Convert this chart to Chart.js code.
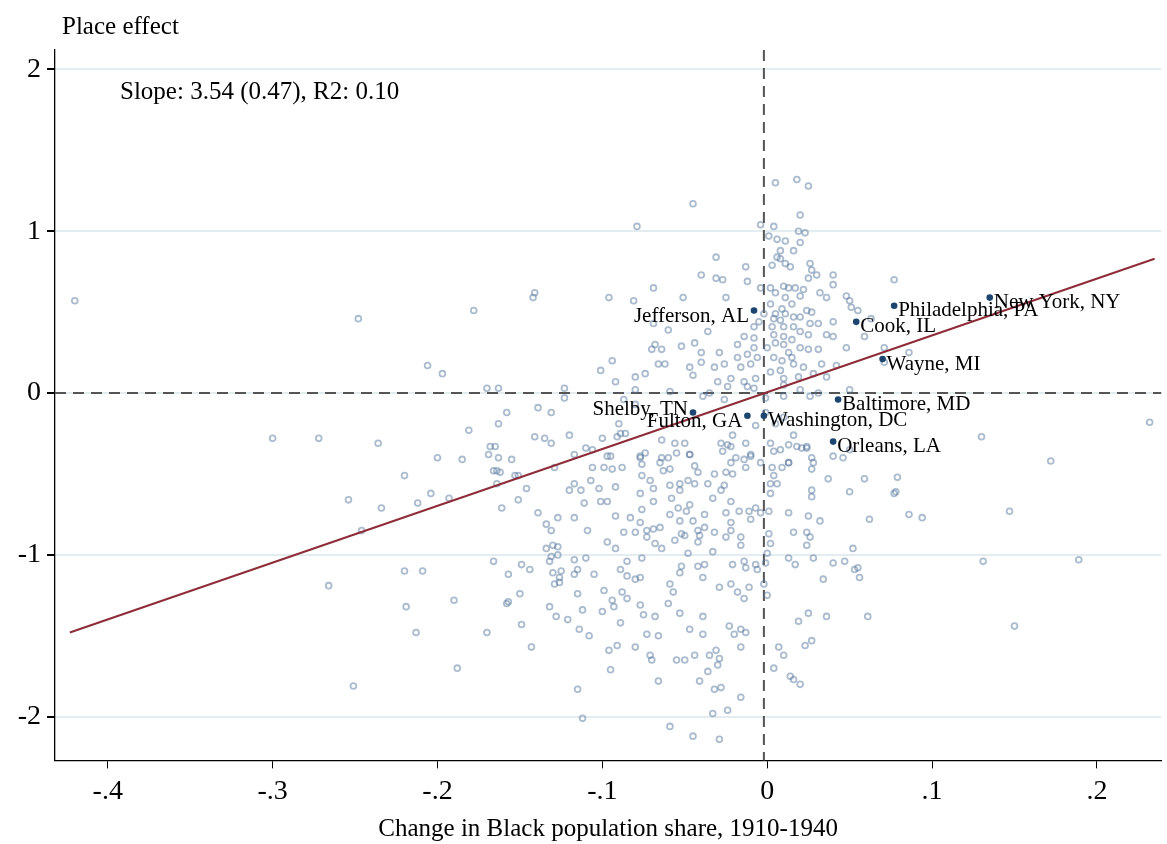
<!DOCTYPE html>
<html>
<head>
<meta charset="utf-8">
<script src="https://cdn.jsdelivr.net/npm/chart.js@4.4.0/dist/chart.umd.min.js"></script>
<style>
  html, body { margin: 0; padding: 0; background: #fff; }
  #wrap { width: 1167px; height: 844px; }
</style>
</head>
<body>
<div id="wrap"><canvas id="c"></canvas></div>
<script>
// county points: [change in Black share, place effect]
const countyPoints = [
  [-0.42,0.57],[-0.248,0.46],[-0.272,-0.28],[-0.30,-0.28],[-0.236,-0.31],[-0.206,0.17],[-0.197,0.12],
  [-0.178,0.51],[-0.142,0.59],[-0.141,0.62],[0.232,-0.18],[0.189,-1.03],[0.15,-1.44],[0.147,-0.73],
  [0.172,-0.42],[0.13,-0.27],[0.131,-1.04],[0.086,-0.75],[0.094,-0.77],[-0.251,-1.81],[-0.266,-1.19],
  [-0.254,-0.66],[-0.246,-0.85],[-0.22,-1.10],[-0.209,-1.10],[-0.219,-1.32],[-0.213,-1.48],[-0.188,-1.70],
  [-0.19,-1.28],[-0.22,-0.51],[-0.204,-0.62],[-0.193,-0.65],[-0.212,-0.68],[-0.2,-0.40],[-0.185,-0.41],
  [-0.181,-0.23],[-0.168,-0.33],[-0.166,-0.48],[-0.17,0.03],[-0.163,0.03],[-0.153,-0.51],[-0.151,-0.66],
  [-0.17,-1.48],[-0.158,-1.30],[-0.157,-1.12],[-0.234,-0.71],[-0.158,-0.12],[-0.163,-0.19],
  [0.005,1.30],[0.018,1.32],[0.025,1.28],[-0.045,1.17],[0.02,1.10],[-0.079,1.03],[-0.004,1.04],[0.004,1.03],
  [0.019,1.00],[0.023,0.99],[0.001,0.97],[0.006,0.95],[0.011,0.94],[0.02,0.93],[0.016,0.88],[0.008,0.88],
  [-0.031,0.84],[0.006,0.84],[0.008,0.83],[0.011,0.80],[0.014,0.78],[0.003,0.79],[0.026,0.80],[-0.013,0.78],
  [0.027,0.76],[0.03,0.73],[-0.04,0.73],[-0.031,0.71],[-0.027,0.70],[-0.012,0.69],[0.025,0.71],[0.04,0.73],
  [0.077,0.70],[-0.004,0.65],[0.002,0.65],[0.01,0.66],[0.013,0.65],[0.017,0.65],[0.022,0.64],[0.04,0.67],
  [-0.069,0.65],[-0.096,0.59],[-0.081,0.57],[-0.051,0.59],[-0.025,0.59],[0.005,0.62],[0.011,0.59],
  [0.02,0.60],[0.032,0.62],[0.036,0.59],[0.048,0.60],[0.002,0.55],[0.015,0.55],[0.051,0.53],[0.055,0.51],
  [0.009,0.52],[0.005,0.49],[0.011,0.49],[0.024,0.51],[0.027,0.50],[-0.002,0.49],[-0.005,0.44],[0.004,0.46],
  [0.008,0.45],[0.016,0.47],[0.02,0.47],[0.026,0.43],[0.031,0.43],[0.04,0.44],[0.063,0.46],[-0.069,0.43],
  [-0.06,0.39],[-0.036,0.38],[-0.008,0.41],[0.003,0.41],[0.01,0.41],[0.016,0.41],[0.02,0.38],[0.025,0.36],
  [0.036,0.36],[0.04,0.35],[0.059,0.35],[-0.014,0.35],[-0.008,0.34],[0.004,0.36],[0.01,0.35],[0.015,0.33],
  [-0.044,0.31],[-0.052,0.29],[-0.068,0.30],[-0.07,0.27],[-0.064,0.27],[-0.018,0.30],[-0.008,0.28],
  [0.0,0.28],[0.005,0.31],[0.01,0.30],[0.013,0.25],[0.02,0.28],[0.025,0.27],[0.031,0.27],[0.048,0.28],
  [0.071,0.28],[0.086,0.25],[-0.094,0.20],[-0.04,0.25],[-0.029,0.25],[-0.018,0.22],[-0.012,0.24],
  [-0.006,0.22],[0.004,0.22],[0.009,0.20],[0.015,0.22],[-0.101,0.14],[-0.074,0.12],[-0.066,0.18],
  [-0.062,0.18],[-0.047,0.16],[-0.04,0.19],[-0.032,0.16],[-0.026,0.18],[-0.016,0.16],[-0.01,0.18],
  [0.002,0.13],[0.008,0.14],[0.016,0.18],[0.022,0.16],[0.033,0.18],[0.042,0.17],[0.071,0.19],[-0.092,0.07],
  [-0.08,0.10],[-0.045,0.11],[-0.03,0.07],[-0.022,0.09],[-0.014,0.07],[-0.007,0.09],[0.01,0.09],[0.019,0.10],
  [0.028,0.12],[0.036,0.10],[-0.123,0.03],[-0.08,0.02],[-0.059,0.01],[-0.035,0.0],[-0.024,0.04],[-0.012,0.04],
  [-0.008,0.03],[0.01,0.05],[0.02,0.02],[0.031,0.0],[0.05,0.02],[-0.139,-0.09],[-0.131,-0.12],[-0.123,-0.03],
  [-0.087,-0.04],[-0.039,-0.02],[-0.026,-0.04],[-0.001,-0.03],[0.01,-0.02],[0.026,-0.02],[-0.141,-0.27],
  [-0.135,-0.28],[-0.131,-0.31],[-0.12,-0.26],[-0.11,-0.34],[-0.106,-0.35],[-0.1,-0.28],[-0.097,-0.39],
  [-0.091,-0.27],[-0.09,-0.19],[-0.086,-0.25],[-0.08,-0.07],[-0.077,-0.40],[-0.074,-0.37],[-0.064,-0.29],
  [-0.056,-0.31],[-0.05,-0.31],[-0.047,-0.38],[-0.028,-0.31],[-0.024,-0.32],[-0.021,-0.26],[-0.013,-0.31],
  [-0.01,-0.39],[-0.007,-0.20],[-0.001,-0.12],[0.005,-0.19],[0.01,-0.15],[0.016,-0.26],[0.021,-0.34],
  [0.024,-0.34],[0.013,-0.43],[0.004,-0.36],[0.002,-0.31],[-0.019,-0.40],[0.05,-0.35],
  [-0.165,-0.33],[-0.169,-0.38],[-0.163,-0.40],[-0.155,-0.41],[-0.164,-0.48],[-0.162,-0.49],[-0.151,-0.51],
  [-0.146,-0.59],[-0.161,-0.71],[-0.164,-0.56],[-0.139,-0.74],[-0.134,-0.81],[-0.131,-0.85],[-0.127,-0.77],
  [-0.117,-0.77],[-0.12,-0.60],[-0.117,-0.56],[-0.113,-0.60],[-0.111,-0.68],[-0.107,-0.54],[-0.102,-0.59],
  [-0.101,-0.67],[-0.097,-0.67],[-0.092,-0.58],[-0.099,-0.46],[-0.094,-0.47],[-0.088,-0.46],[-0.106,-0.46],
  [-0.117,-0.38],[-0.129,-0.46],[-0.095,-0.39],[-0.089,-0.25],[-0.077,-0.39],[-0.076,-0.44],[-0.076,-0.51],
  [-0.071,-0.54],[-0.069,-0.59],[-0.077,-0.62],[-0.069,-0.67],[-0.076,-0.72],[-0.092,-0.76],[-0.083,-0.77],
  [-0.077,-0.80],[-0.087,-0.86],[-0.08,-0.86],[-0.073,-0.85],[-0.073,-0.89],[-0.069,-0.84],[-0.065,-0.83],
  [-0.064,-0.40],[-0.06,-0.40],[-0.065,-0.43],[-0.059,-0.47],[-0.063,-0.48],[-0.055,-0.37],[-0.047,-0.38],
  [-0.059,-0.57],[-0.058,-0.65],[-0.053,-0.60],[-0.053,-0.56],[-0.048,-0.54],[-0.044,-0.56],[-0.044,-0.45],
  [-0.042,-0.49],[-0.054,-0.71],[-0.059,-0.75],[-0.049,-0.73],[-0.047,-0.69],[-0.053,-0.79],[-0.045,-0.79],
  [-0.052,-0.87],[-0.056,-0.91],[-0.05,-0.88],[-0.042,-0.85],[-0.041,-0.88],[-0.042,-0.92],[-0.036,-0.56],
  [-0.032,-0.50],[-0.025,-0.49],[-0.021,-0.50],[-0.026,-0.57],[-0.028,-0.60],[-0.033,-0.65],[-0.022,-0.67],
  [-0.025,-0.74],[-0.022,-0.80],[-0.022,-0.85],[-0.025,-0.89],[-0.016,-0.89],[-0.016,-0.94],[-0.032,-0.86],
  [-0.038,-0.83],[-0.038,-0.75],[-0.017,-0.73],[-0.011,-0.73],[-0.01,-0.78],[-0.007,-0.71],[-0.004,-0.74],
  [-0.022,-0.33],[-0.027,-0.36],[-0.022,-0.43],[-0.014,-0.41],[-0.01,-0.38],[-0.013,-0.46],[-0.004,-0.43],
  [0.008,-0.35],[0.013,-0.32],[0.018,-0.33],[0.024,-0.33],[0.027,-0.40],[0.028,-0.43],[0.027,-0.47],
  [0.013,-0.43],[0.009,-0.46],[0.003,-0.46],[0.004,-0.51],[0.002,-0.56],[0.006,-0.56],[0.002,-0.62],
  [0.037,-0.53],[0.04,-0.39],[0.046,-0.40],[0.059,-0.53],[0.05,-0.61],[0.027,-0.60],[0.027,-0.64],
  [0.077,-0.62],[0.001,-0.73],[0.013,-0.74],[0.025,-0.76],[0.032,-0.79],[0.062,-0.78],[0.016,-0.86],
  [0.024,-0.86],[0.026,-0.89],[0.024,-0.94],[0.052,-0.96],[0.001,-0.87],[0.002,-0.93],[0.0,-0.99],
  [0.013,-1.02],[0.017,-1.06],[0.028,-1.02],[0.04,-1.05],[0.047,-1.04],[0.055,-1.08],[0.056,-1.14],
  [0.034,-1.15],[-0.002,-1.18],[0.0,-1.25],[-0.001,-1.05],[-0.006,-1.09],[-0.007,-1.06],[-0.013,-1.08],
  [-0.014,-1.04],[-0.021,-1.06],[-0.011,-1.20],[-0.014,-1.27],[-0.018,-1.23],[-0.022,-1.18],[-0.029,-1.20],
  [-0.038,-1.06],[-0.042,-1.07],[-0.039,-1.14],[-0.033,-0.98],[-0.048,-0.99],[-0.052,-1.07],[-0.053,-1.11],
  [-0.059,-1.18],[-0.057,-1.23],[-0.06,-1.30],[-0.068,-1.38],[-0.053,-1.36],[-0.039,-1.38],[-0.047,-1.46],
  [-0.039,-1.49],[-0.073,-1.49],[-0.066,-1.50],[-0.075,-1.37],[-0.085,-1.27],[-0.094,-1.28],[-0.093,-1.32],
  [-0.089,-1.42],[-0.1,-1.35],[-0.099,-1.22],[-0.088,-1.23],[-0.077,-1.31],[-0.112,-1.34],[-0.121,-1.40],
  [-0.128,-1.38],[-0.132,-1.32],[-0.115,-1.24],[-0.129,-1.18],[-0.126,-1.17],[-0.13,-1.11],[-0.125,-1.10],
  [-0.126,-1.14],[-0.13,-0.94],[-0.127,-0.95],[-0.127,-1.00],[-0.134,-0.96],[-0.132,-1.04],[-0.131,-1.01],
  [-0.117,-1.03],[-0.115,-1.09],[-0.117,-1.12],[-0.11,-1.02],[-0.105,-1.12],[-0.097,-0.92],[-0.092,-0.96],
  [-0.109,-0.85],[-0.089,-1.09],[-0.085,-1.04],[-0.085,-1.13],[-0.08,-1.15],[-0.077,-1.14],[-0.076,-1.02],
  [-0.068,-0.93],[-0.064,-0.96],[-0.15,-1.24],[-0.157,-1.29],[-0.149,-1.43],[-0.143,-1.57],[-0.166,-1.04],
  [-0.149,-1.06],[-0.144,-1.09],[-0.114,-1.46],[-0.108,-1.50],[-0.096,-1.59],[-0.091,-1.56],[-0.08,-1.57],
  [-0.071,-1.62],[-0.07,-1.65],[-0.095,-1.71],[-0.055,-1.65],[-0.05,-1.65],[-0.044,-1.62],[-0.035,-1.62],
  [-0.031,-1.59],[-0.029,-1.64],[-0.03,-1.68],[-0.036,-1.72],[-0.066,-1.78],[-0.041,-1.78],[-0.032,-1.83],
  [-0.028,-1.82],[-0.016,-1.88],[-0.115,-1.83],[-0.112,-2.01],[-0.059,-2.06],[-0.045,-2.12],[-0.029,-2.14],
  [-0.033,-1.98],[-0.024,-1.96],[-0.023,-1.44],[-0.02,-1.49],[-0.016,-1.46],[-0.013,-1.48],[-0.016,-1.57],
  [0.007,-1.57],[0.01,-1.62],[0.004,-1.70],[0.014,-1.75],[0.016,-1.77],[0.02,-1.80],[0.025,-1.36],
  [0.019,-1.41],[0.036,-1.38],[0.023,-1.56],[0.027,-1.53],[0.061,-1.38],[0.078,-0.61],[0.079,-0.52],
  [0.053,-1.09],[0.05,0.57]
];

const namedCounties = ["New York, NY","Philadelphia, PA","Cook, IL","Wayne, MI","Jefferson, AL",
  "Baltimore, MD","Washington, DC","Orleans, LA","Shelby, TN","Fulton, GA"];
const namedX = [0.135, 0.077, 0.054, 0.070, -0.008, 0.043, -0.002, 0.040, -0.045, -0.012];
const namedY = [0.59, 0.54, 0.44, 0.21, 0.51, -0.04, -0.14, -0.30, -0.12, -0.14];
const labelSide = ["r","r","r","r","l","r","r","r","l","l"];

const fitX = [-0.423, 0.235];
const fitY = [-1.48, 0.83];
const yTicks = [-2, -1, 0, 1, 2];
const xTicks = [-0.4, -0.3, -0.2, -0.1, 0, 0.1, 0.2];

const serif = "'Liberation Serif', 'DejaVu Serif', serif";

function fmtX(v) {
  if (Math.abs(v) < 1e-9) return "0";
  return (v < 0 ? "-" : "") + "." + Math.round(Math.abs(v) * 10);
}

const extras = {
  id: 'extras',
  beforeDatasetsDraw(chart) {
    const { ctx, chartArea: a, scales: { x, y } } = chart;
    ctx.save();
    ctx.strokeStyle = '#555';
    ctx.lineWidth = 2;
    ctx.setLineDash([11, 7]);
    ctx.beginPath();
    ctx.moveTo(a.left, y.getPixelForValue(0));
    ctx.lineTo(a.right, y.getPixelForValue(0));
    ctx.moveTo(x.getPixelForValue(-0.002), a.top);
    ctx.lineTo(x.getPixelForValue(-0.002), a.bottom);
    ctx.stroke();
    ctx.restore();
  },
  afterDatasetsDraw(chart) {
    const { ctx, scales: { x, y } } = chart;
    ctx.save();
    ctx.fillStyle = '#000';
    ctx.font = "21px " + serif;
    ctx.textBaseline = 'middle';
    namedCounties.forEach((n, i) => {
      const px = x.getPixelForValue(namedX[i]);
      const py = y.getPixelForValue(namedY[i]);
      if (labelSide[i] === 'r') {
        ctx.textAlign = 'left';
        ctx.fillText(n, px + 4, py + 5);
      } else {
        ctx.textAlign = 'right';
        ctx.fillText(n, px - 5, py + (n.startsWith("Shelby") ? -3 : 6));
      }
    });
    ctx.font = "25px " + serif;
    ctx.textAlign = 'left';
    ctx.fillText("Slope: 3.54 (0.47), R2: 0.10", 120, 92);
    ctx.fillText("Place effect", 62, 27);
    ctx.restore();
  }
};

new Chart(document.getElementById('c'), {
  type: 'scatter',
  data: {
    datasets: [
      {
        label: 'Named',
        data: namedX.map((v, i) => ({ x: v, y: namedY[i] })),
        pointRadius: 3.3,
        pointBackgroundColor: '#1c4670',
        pointBorderWidth: 0
      },
      {
        label: 'Fit',
        type: 'line',
        data: fitX.map((v, i) => ({ x: v, y: fitY[i] })),
        borderColor: '#8e2c38',
        borderWidth: 2,
        pointRadius: 0
      },
      {
        label: 'Counties',
        data: countyPoints.map(p => ({ x: p[0], y: p[1] })),
        pointRadius: 2.9,
        pointBackgroundColor: 'rgba(255,255,255,0)',
        pointBorderColor: 'rgba(90,122,160,0.5)',
        pointBorderWidth: 1.8
      }
    ]
  },
  options: {
    responsive: true,
    maintainAspectRatio: false,
    animation: false,
    layout: { padding: { top: 50, right: 2, left: 0, bottom: 0 } },
    plugins: { legend: { display: false }, tooltip: { enabled: false } },
    scales: {
      x: {
        type: 'linear', min: -0.432, max: 0.239,
        afterBuildTicks: s => { s.ticks = xTicks.map(v => ({ value: v })); },
        ticks: { callback: fmtX, color: '#000', font: { family: serif, size: 28 }, padding: 6, maxRotation: 0 },
        grid: { drawOnChartArea: false, tickColor: '#000', tickLength: 8 },
        border: { color: '#000', width: 1.3 },
        title: { display: true, text: 'Change in Black population share, 1910-1940', color: '#000',
                 font: { family: serif, size: 25 }, padding: { top: 0, bottom: 0 } }
      },
      y: {
        type: 'linear', min: -2.27, max: 2.12,
        afterBuildTicks: s => { s.ticks = yTicks.map(v => ({ value: v })); },
        afterFit: s => { s.width = 55; },
        ticks: { color: '#000', font: { family: serif, size: 28 }, padding: 6 },
        grid: { color: '#e3edf0', lineWidth: 2, tickColor: '#000', tickLength: 8 },
        border: { color: '#000', width: 1.3 }
      }
    }
  },
  plugins: [extras]
});
</script>
</body>
</html>
